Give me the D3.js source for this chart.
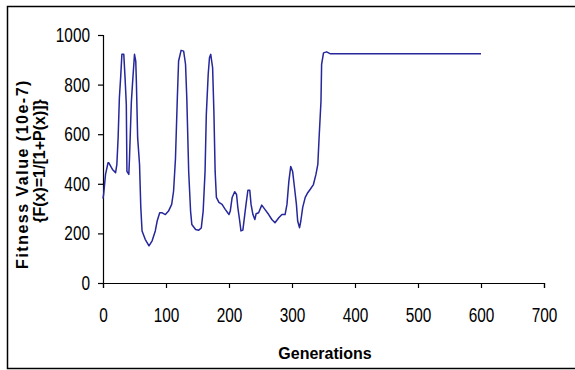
<!DOCTYPE html>
<html>
<head>
<meta charset="utf-8">
<script src="https://cdn.jsdelivr.net/npm/d3@7"></script>
<style>
  html, body { margin: 0; padding: 0; background: #fff; }
  svg { display: block; }
  .tick text { font-family: "Liberation Sans", Arial, sans-serif; font-size: 20px; fill: #000; }
  .title { font-family: "Liberation Sans", Arial, sans-serif; font-weight: bold; font-size: 16px; fill: #000; }
</style>
</head>
<body>
<script>
// Generation numbers and best fitness value (x 10e-7) at each
const generations = [0, 1, 4, 8, 9, 15, 20, 22, 24, 26, 28, 30, 33, 35, 37, 38, 41, 42, 45, 47, 50, 52, 53, 55, 58,
  60, 62, 67, 73, 78, 83, 86, 90, 94, 99, 104, 109, 112, 115, 118, 120, 124, 128, 131, 133, 136, 139, 141,
  147, 152, 156, 159, 162, 164, 167, 169, 171, 174, 176, 178, 180, 184, 189, 194, 200, 202, 205, 209, 212,
  214, 217, 219, 222, 225, 227, 230, 233, 235, 238, 241, 243, 247, 252, 257, 263, 268, 273, 279, 284, 289,
  292, 295, 298, 301, 304, 307, 309, 312, 314, 317, 321, 325, 329, 334, 338, 341, 343, 346, 347, 350, 355,
  361, 400, 450, 500, 550, 600];
const fitness = [340, 357, 438, 485, 485, 458, 445, 478, 586, 747, 828, 922, 922, 828, 720, 450, 438, 500, 730, 810, 922, 895, 810, 586, 478,
  305, 210, 176, 150, 170, 210, 250, 283, 283, 276, 290, 317, 370, 500, 747, 895, 938, 935, 882, 747, 450, 290, 236,
  216, 213, 222, 290, 450, 680, 842, 908, 922, 868, 693, 450, 345, 325, 317, 297, 276, 290, 345, 368, 357,
  305, 250, 210, 213, 276, 317, 374, 374, 317, 276, 256, 279, 283, 314, 297, 276, 256, 243, 263, 276, 276,
  317, 410, 470, 450, 384, 317, 250, 223, 250, 305, 345, 364, 378, 397, 438, 478, 586, 733, 882, 928, 932,
  924, 924, 924, 924, 924, 924];
const xTicks = [0, 100, 200, 300, 400, 500, 600, 700];
const yTicks = [0, 200, 400, 600, 800, 1000];

const W = 575, H = 370;
const SX = 0.77; // horizontal squeeze for the condensed tick numerals
const svg = d3.select("body").append("svg").attr("width", W).attr("height", H);

// outer frame
svg.append("rect")
  .attr("x", 7.5).attr("y", 6.5)
  .attr("width", W + 10).attr("height", 362)
  .attr("fill", "none").attr("stroke", "#000").attr("stroke-width", 1.5);

const x = d3.scaleLinear().domain([0, 700]).range([103, 544]);
const y = d3.scaleLinear().domain([0, 1000]).range([283, 35]);

svg.append("g")
  .attr("transform", `translate(0,${y(0)})`)
  .call(d3.axisBottom(x).tickValues(xTicks).tickFormat(d3.format("d")).tickSizeOuter(0).tickSize(5).tickPadding(20))
  .call(g => g.select(".domain").attr("stroke", "#000").attr("stroke-width", 1.2))
  .call(g => g.selectAll(".tick line").attr("stroke", "#000").attr("stroke-width", 1.2))
  .call(g => g.selectAll(".tick text").attr("transform", `scale(${SX},1)`));

svg.append("g")
  .attr("transform", `translate(${x(0)},0)`)
  .call(d3.axisLeft(y).tickValues(yTicks).tickFormat(d3.format("d")).tickSizeOuter(0).tickSize(5).tickPadding(8))
  .call(g => g.select(".domain").attr("stroke", "#000").attr("stroke-width", 1.2))
  .call(g => g.selectAll(".tick line").attr("stroke", "#000").attr("stroke-width", 1.2))
  .call(g => g.selectAll(".tick text").attr("x", -13 / SX).attr("transform", `scale(${SX},1)`));

const line = d3.line().x((d, i) => x(generations[i])).y(d => y(d));
svg.append("path")
  .datum(fitness)
  .attr("d", line)
  .attr("fill", "none")
  .attr("stroke", "#25279a")
  .attr("stroke-width", 1.5)
  .attr("stroke-linejoin", "round");

svg.append("text").attr("class", "title")
  .attr("x", 325).attr("y", 359).attr("text-anchor", "middle")
  .text("Generations");

svg.append("text").attr("class", "title")
  .attr("transform", "translate(28,174) rotate(-90)").attr("text-anchor", "middle")
  .attr("letter-spacing", "1.5px")
  .text("Fitness Value (10e-7)");
svg.append("text").attr("class", "title")
  .attr("transform", "translate(45,161) rotate(-90)").attr("text-anchor", "middle")
  .text("{F(x)=1/[1+P(x)]}");
</script>
</body>
</html>
